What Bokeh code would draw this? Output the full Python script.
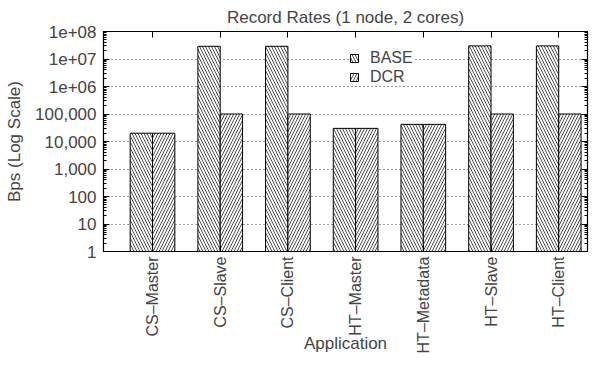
import numpy as np
from bokeh.plotting import figure
from bokeh.models import (FixedTicker, LinearAxis, LogAxis, Legend, LegendItem,
                          Range1d, ColumnDataSource, CustomJSTickFormatter)
from bokeh.embed import file_html
from bokeh.resources import INLINE

# ---- data ----
apps = ["CS–Master", "CS–Slave", "CS–Client", "HT–Master", "HT–Metadata", "HT–Slave", "HT–Client"]
base = [2.0e4, 2.9e7, 2.9e7, 3.0e4, 4.2e4, 3.0e7, 3.0e7]
dcr = [2.0e4, 1.0e5, 1.0e5, 3.0e4, 4.2e4, 1.0e5, 1.0e5]
y_ticks = [1, 10, 100, 1000, 10000, 100000, 1000000, 10000000, 100000000]
y_tick_labels = ["1", "10", "100", "1,000", "10,000", "100,000", "1e+06", "1e+07", "1e+08"]
title_text = "Record Rates (1 node, 2 cores)"

FONT = "Liberation Sans"
FS = "17px"
bar_w = 0.33
xs = np.arange(len(apps))

src = ColumnDataSource(dict(
    x_base=xs - bar_w / 2, x_dcr=xs + bar_w / 2,
    base=base, dcr=dcr, bottom=[1] * len(apps)))

p = figure(width=589, height=356, output_backend="svg", toolbar_location=None,
           y_axis_type="log", x_range=Range1d(-0.724, 6.425), y_range=Range1d(1, 1e8),
           min_border_left=103, min_border_right=2, min_border_top=28, min_border_bottom=105,
           title=title_text)
p.title.align = "center"
p.title.text_font = FONT
p.title.text_font_size = FS
p.title.text_font_style = "normal"
p.title.text_line_height = 1.0
p.title.standoff = 10

p.outline_line_color = "black"
p.outline_line_width = 1.2
p.background_fill_color = "white"
p.border_fill_color = "white"

r_base = p.vbar(x="x_base", width=bar_w, top="base", bottom="bottom", source=src,
                fill_color="white", line_color="black", line_width=1,
                hatch_pattern="left_diagonal_line", hatch_scale=6, hatch_color="#222222",
                hatch_weight=0.8)
r_dcr = p.vbar(x="x_dcr", width=bar_w, top="dcr", bottom="bottom", source=src,
               fill_color="white", line_color="black", line_width=1,
               hatch_pattern="right_diagonal_line", hatch_scale=6, hatch_color="#222222",
               hatch_weight=0.8)

minor = [m * t for t in y_ticks[:-1] for m in range(2, 10)]
yticker = FixedTicker(ticks=y_ticks, minor_ticks=minor)
xticker = FixedTicker(ticks=list(xs))

# grid
p.xgrid.visible = False
p.ygrid.ticker = yticker
p.ygrid.grid_line_color = "black"
p.ygrid.grid_line_dash = "1 3"
p.ygrid.grid_line_width = 1
p.ygrid.grid_line_alpha = 0.8

# left axis
yax = p.yaxis[0]
yax.ticker = yticker
yax.major_label_overrides = {t: l for t, l in zip(y_ticks, y_tick_labels)}
yax.axis_label = "Bps (Log Scale)"
yax.axis_label_text_font = FONT
yax.axis_label_text_font_size = FS
yax.axis_label_text_font_style = "normal"
yax.axis_label_standoff = 8
yax.major_label_text_font = FONT
yax.major_label_text_font_size = FS
yax.major_label_standoff = 7
yax.major_tick_in = 6
yax.major_tick_out = 0
yax.minor_tick_in = 3
yax.minor_tick_out = 0
yax.axis_line_color = "black"

# bottom axis
xax = p.xaxis[0]
xax.ticker = xticker
xax.major_label_overrides = {int(i): a for i, a in zip(xs, apps)}
xax.major_label_orientation = np.pi / 2
xax.major_label_text_font = FONT
xax.major_label_text_font_size = "16px"
xax.major_label_standoff = 5
xax.axis_label = "Application"
xax.axis_label_text_font = FONT
xax.axis_label_text_font_size = FS
xax.axis_label_text_font_style = "normal"
xax.axis_label_standoff = -22
xax.major_tick_in = 6
xax.major_tick_out = 0
xax.minor_tick_line_color = None

# mirrored top / right axes (ticks only)
blank = CustomJSTickFormatter(code="return ''")
top = LinearAxis(ticker=xticker, formatter=blank, major_label_text_font_size="1px",
                 major_label_standoff=0, major_tick_in=6, major_tick_out=0,
                 minor_tick_line_color=None)
p.add_layout(top, "above")
right = LogAxis(ticker=yticker, formatter=blank, major_label_text_font_size="1px",
                major_label_standoff=0, major_tick_in=6, major_tick_out=0,
                minor_tick_in=3, minor_tick_out=0)
p.add_layout(right, "right")

common = dict(label_text_font=FONT, label_text_font_size="16px",
              glyph_width=10, glyph_height=10, label_height=12, label_standoff=11,
              spacing=0, padding=1, margin=0, border_line_color=None,
              background_fill_color="white", background_fill_alpha=1)
p.add_layout(Legend(items=[LegendItem(label="BASE", renderers=[r_base])],
                    location=(246, 184), **common), "center")
p.add_layout(Legend(items=[LegendItem(label="DCR", renderers=[r_dcr])],
                    location=(246, 165), **common), "center")

open("out.html", "w").write(file_html(p, INLINE))
